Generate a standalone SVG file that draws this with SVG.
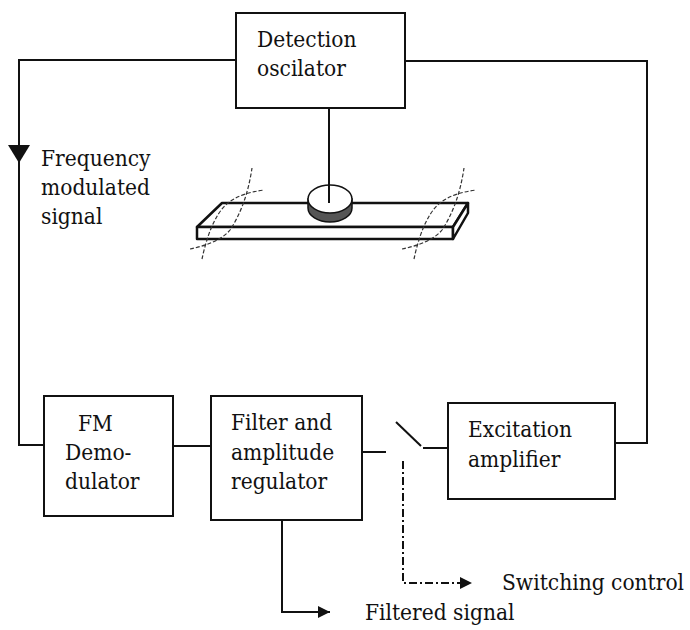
<svg xmlns="http://www.w3.org/2000/svg" width="690" height="630" viewBox="0 0 690 630">
  <style>
    .box { fill: #fff; stroke: #111; stroke-width: 2; }
    .wire { fill: none; stroke: #111; stroke-width: 2; }
    .ctrl { fill: none; stroke: #111; stroke-width: 2; stroke-dasharray: 8 3 2 3; }
    .rope { fill: none; stroke: #333; stroke-width: 1.2; stroke-dasharray: 4 2; }
    .beam { fill: #fff; stroke: #111; stroke-width: 2.5; stroke-linejoin: round; }
    .lbl { font-family: 'DejaVu Serif Condensed', 'DejaVu Serif', serif; font-stretch: condensed; font-size: 22.5px; fill: #111; }
  </style>
  <defs>
    <marker id="arrow" viewBox="0 0 12 12" refX="12" refY="6" markerWidth="12" markerHeight="12" markerUnits="userSpaceOnUse" orient="auto">
      <path d="M0,0 L12,6 L0,12 Z" fill="#111"/>
    </marker>
    <g id="wrap">
      <path class="rope" d="M190,249 C205,246 222,240 230,230 C240,215 248,195 252,168"/>
      <path class="rope" d="M202,259 C206,240 214,214 228,203 C238,195 250,192 264,190"/>
    </g>
  </defs>

  <rect width="690" height="630" fill="#fff"/>

  <!-- connectors -->
  <g id="connectors">
    <!-- oscillator output down to the FM demodulator -->
    <path class="wire" d="M236,60 H19 V445 H44"/>
    <path d="M8,145 L30,145 L19,163 Z" fill="#111"/>
    <!-- excitation amplifier back up to the oscillator -->
    <path class="wire" d="M405,61 H647 V443 H615"/>
    <!-- oscillator probe stem -->
    <path class="wire" d="M329,108 V203"/>
    <!-- demodulator to filter -->
    <path class="wire" d="M173,446 H211"/>
    <!-- filter to switch -->
    <path class="wire" d="M362,452 H386"/>
    <!-- switch blade -->
    <path class="wire" d="M396,422 L421,446"/>
    <!-- switch to excitation amplifier -->
    <path class="wire" d="M423,448 H448"/>
    <!-- switching control (dash-dot) -->
    <path class="ctrl" d="M403,461 V583 H472" marker-end="url(#arrow)"/>
    <!-- filtered signal output -->
    <path class="wire" d="M282,520 V612 H330" marker-end="url(#arrow)"/>
  </g>

  <!-- vibrating beam with sensing disc -->
  <g id="beam">
    <path class="beam" d="M197,227 L222,203 H468 L453,227 Z"/>
    <path class="beam" d="M197,227 H453 V239 H197 Z"/>
    <path class="beam" d="M453,227 L468,203 V213 L453,239 Z"/>
    <use href="#wrap"/>
    <use href="#wrap" transform="translate(212,0)"/>
    <path d="M308,199 V208 A22,14 0 0 0 352,208 V199 Z" fill="#555" stroke="#111" stroke-width="1.5"/>
    <ellipse cx="330" cy="199" rx="22" ry="14" fill="#fff" stroke="#111" stroke-width="1.5"/>
    <path class="wire" d="M329,185 V203"/>
  </g>

  <g id="detection-oscillator">
    <rect class="box" x="236" y="13" width="169" height="95"/>
    <text class="lbl" x="257" y="47">Detection</text>
    <text class="lbl" x="257" y="76">oscilator</text>
  </g>

  <g id="fm-label">
    <text class="lbl" x="41" y="166">Frequency</text>
    <text class="lbl" x="41" y="195">modulated</text>
    <text class="lbl" x="41" y="224">signal</text>
  </g>

  <g id="fm-demodulator">
    <rect class="box" x="44" y="396" width="129" height="120"/>
    <text class="lbl" x="78" y="431">FM</text>
    <text class="lbl" x="65" y="460">Demo-</text>
    <text class="lbl" x="65" y="489">dulator</text>
  </g>

  <g id="filter-regulator">
    <rect class="box" x="211" y="396" width="151" height="124"/>
    <text class="lbl" x="231" y="430">Filter and</text>
    <text class="lbl" x="231" y="460">amplitude</text>
    <text class="lbl" x="231" y="489">regulator</text>
  </g>

  <g id="excitation-amplifier">
    <rect class="box" x="448" y="403" width="167" height="96"/>
    <text class="lbl" x="468" y="437">Excitation</text>
    <text class="lbl" x="468" y="467">amplifier</text>
  </g>

  <g id="outputs">
    <text class="lbl" x="502" y="590">Switching control</text>
    <text class="lbl" x="365" y="620">Filtered signal</text>
  </g>
</svg>
